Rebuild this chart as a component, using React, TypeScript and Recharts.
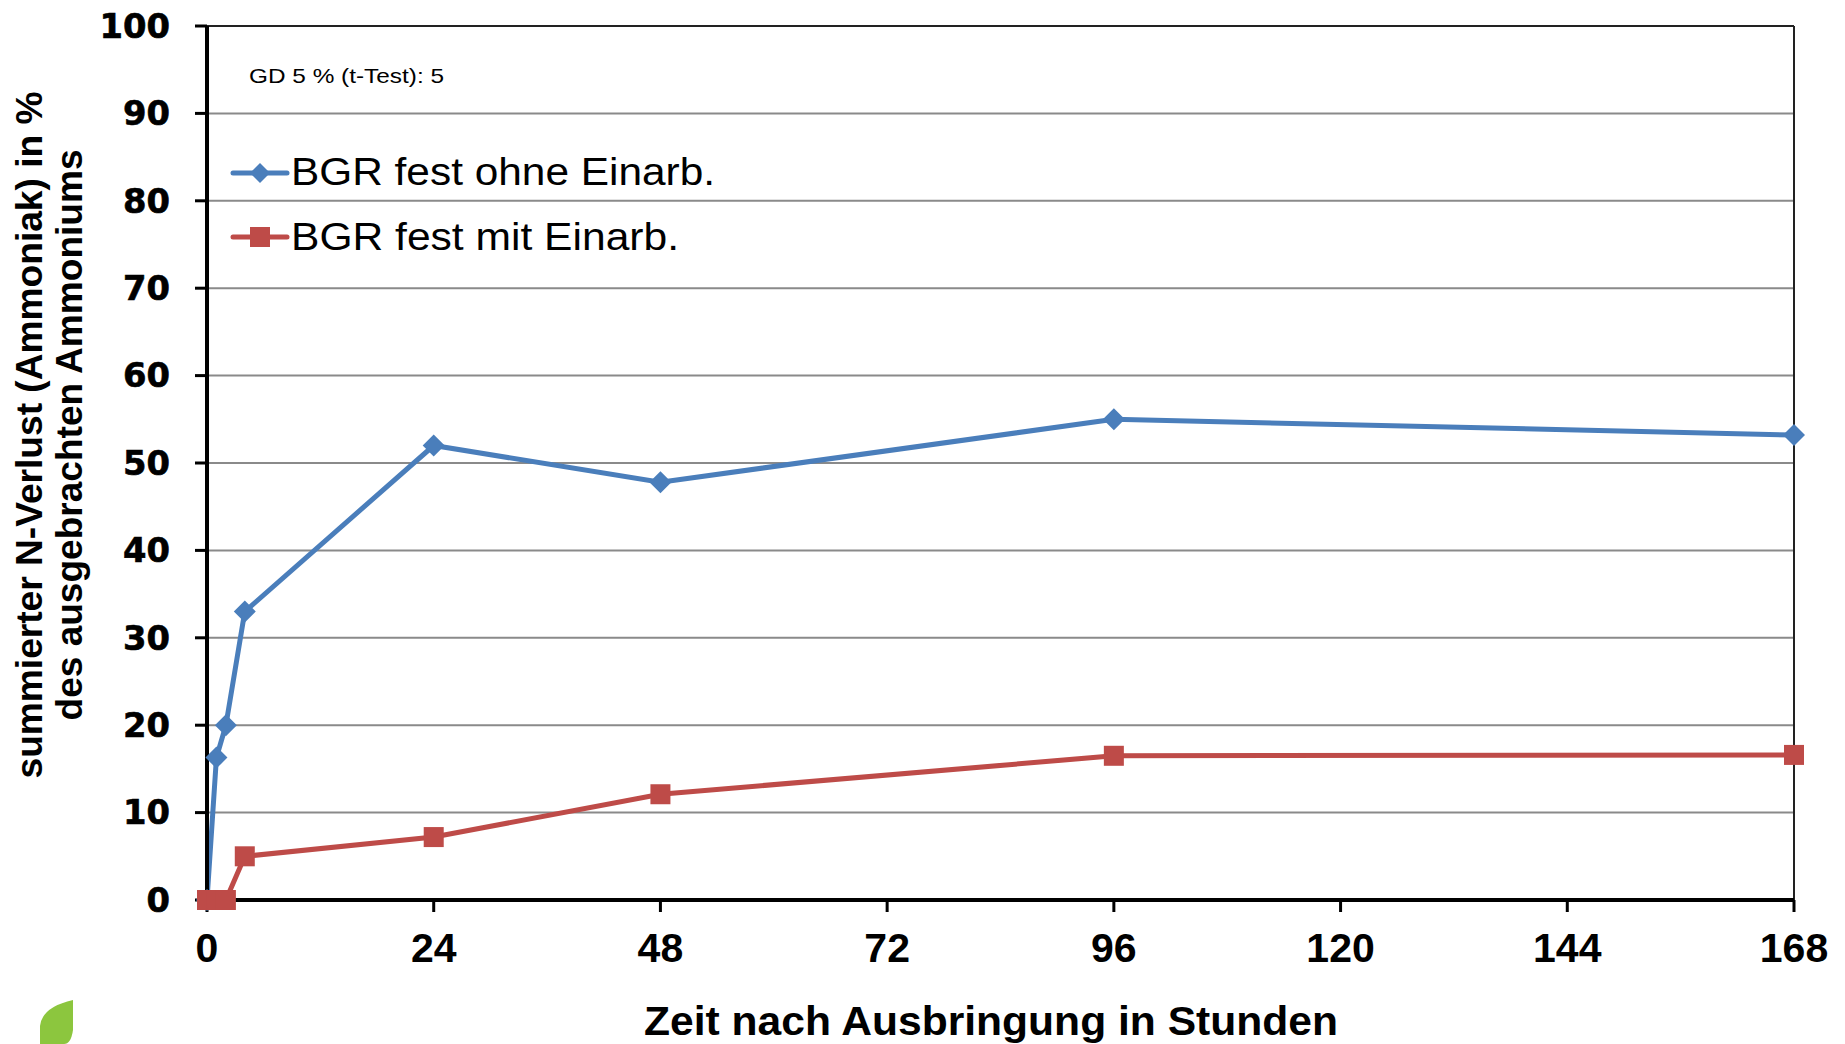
import React from 'react';
import { LineChart, Line, XAxis, YAxis, CartesianGrid, ReferenceLine } from 'recharts';

const hours = [0, 1, 2, 4, 24, 48, 96, 168];
const ohneEinarb = [0, 16.3, 20, 33, 52, 47.8, 55, 53.2];
const mitEinarb = [0, 0, 0, 5, 7.2, 12.1, 16.5, 16.6];
const xTicks = [0, 24, 48, 72, 96, 120, 144, 168];
const yTicks = [0, 10, 20, 30, 40, 50, 60, 70, 80, 90, 100];
const seriesNames = ['BGR fest ohne Einarb.', 'BGR fest mit Einarb.'];
const xTitle = 'Zeit nach Ausbringung in Stunden';
const yTitle = ['summierter N-Verlust (Ammoniak) in %', 'des ausgebrachten Ammoniums'];
const note = 'GD 5 % (t-Test): 5';

const BLUE = '#4A7EBB';
const RED = '#BE4B48';

const data = hours.map((h, i) => ({ h, ohne: ohneEinarb[i], mit: mitEinarb[i] }));

const Diamond = (props: any) => {
  const { cx, cy, key } = props;
  if (cx == null || cy == null) return <g key={key} />;
  const r = 11;
  return (
    <polygon
      key={key}
      points={`${cx},${cy - r} ${cx + r},${cy} ${cx},${cy + r} ${cx - r},${cy}`}
      fill={BLUE}
    />
  );
};

const Square = (props: any) => {
  const { cx, cy, key } = props;
  if (cx == null || cy == null) return <g key={key} />;
  const r = 10;
  return <rect key={key} x={cx - r} y={cy - r} width={2 * r} height={2 * r} fill={RED} />;
};

const YTick = (props: any) => {
  const { x, y, payload } = props;
  const label = String(payload.value);
  return (
    <text
      x={x}
      y={y}
      dy="0.36em"
      textAnchor="end"
      fontFamily="DejaVu Sans, sans-serif"
      fontWeight="bold"
      fontSize={33}
      fill="#000"
      stroke="#000"
      strokeWidth={0.6}
      textLength={label.length * 23.5}
      lengthAdjust="spacingAndGlyphs"
    >
      {label}
    </text>
  );
};

export default function App() {
  return (
    <div style={{ position: 'absolute', left: 0, top: 0, width: 1845, height: 1044, background: '#fff' }}>
      <LineChart
        width={1845}
        height={1044}
        data={data}
        margin={{ top: 26, right: 51, bottom: 0, left: 0 }}
      >
        <CartesianGrid vertical={false} stroke="#8a8a8a" strokeWidth={2} />
        <XAxis
          dataKey="h"
          type="number"
          domain={[0, 168]}
          ticks={xTicks}
          height={144}
          axisLine={{ stroke: '#000', strokeWidth: 4 }}
          tickLine={{ stroke: '#000', strokeWidth: 3 }}
          tickSize={12}
          tickMargin={21}
          tick={{ fontFamily: 'Liberation Sans, Arial, sans-serif', fontWeight: 'bold', fontSize: 41, fill: '#000' }}
          interval={0}
        />
        <YAxis
          type="number"
          domain={[0, 100]}
          ticks={yTicks}
          width={207}
          axisLine={{ stroke: '#000', strokeWidth: 4 }}
          tickLine={{ stroke: '#000', strokeWidth: 3 }}
          tickSize={12}
          tickMargin={25}
          tick={<YTick />}
          interval={0}
        />
        <ReferenceLine y={100} stroke="#222" strokeWidth={2} />
        <ReferenceLine x={168} stroke="#222" strokeWidth={2} />
        <Line
          dataKey="ohne"
          stroke={BLUE}
          strokeWidth={5}
          dot={Diamond}
          activeDot={false}
          isAnimationActive={false}
        />
        <Line
          dataKey="mit"
          stroke={RED}
          strokeWidth={5}
          dot={Square}
          activeDot={false}
          isAnimationActive={false}
        />
      </LineChart>
      <svg
        width={1845}
        height={1044}
        style={{ position: 'absolute', left: 0, top: 0, pointerEvents: 'none' }}
      >
        <g fontFamily="Liberation Sans, Arial, sans-serif" fill="#000">
          <text x={249} y={83} fontSize={21} textLength={195} lengthAdjust="spacingAndGlyphs">{note}</text>

          <line x1={233} y1={173} x2={287} y2={173} stroke={BLUE} strokeWidth={5} strokeLinecap="round" />
          <polygon points="260,163 270,173 260,183 250,173" fill={BLUE} />
          <text x={291} y={185} fontSize={38} textLength={424} lengthAdjust="spacingAndGlyphs">{seriesNames[0]}</text>

          <line x1={233} y1={237} x2={287} y2={237} stroke={RED} strokeWidth={5} strokeLinecap="round" />
          <rect x={250} y={227} width={20} height={20} fill={RED} />
          <text x={291} y={250} fontSize={38} textLength={388} lengthAdjust="spacingAndGlyphs">{seriesNames[1]}</text>

          <text x={991} y={1035} fontSize={40} fontWeight="bold" textAnchor="middle" textLength={694} lengthAdjust="spacingAndGlyphs">{xTitle}</text>

          <text transform="translate(42,435) rotate(-90)" fontSize={36} fontWeight="bold" textAnchor="middle" textLength={687} lengthAdjust="spacingAndGlyphs">{yTitle[0]}</text>
          <text transform="translate(82,435) rotate(-90)" fontSize={36} fontWeight="bold" textAnchor="middle" textLength={571} lengthAdjust="spacingAndGlyphs">{yTitle[1]}</text>
        </g>
        <path d="M40 1044 L40 1026 Q42 1007 73 1000 L73 1030 Q71 1044 64 1044 Z" fill="#8CC63E" />
      </svg>
    </div>
  );
}
